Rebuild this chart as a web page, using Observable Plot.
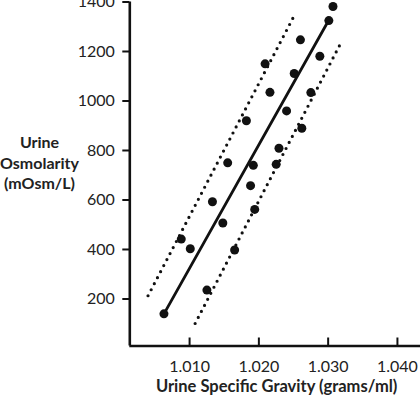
<!DOCTYPE html>
<html>
<head>
<meta charset="utf-8">
<script src="https://cdn.jsdelivr.net/npm/d3@7"></script>
<script src="https://cdn.jsdelivr.net/npm/@observablehq/plot@0.6"></script>
<style>
  html, body { margin: 0; padding: 0; background: #fff; }
  #chart svg { display: block; }
</style>
</head>
<body>
<div id="chart"></div>
<script>
// Scatter data: urine specific gravity (x) vs osmolarity (y)
const gravity = [1.0307, 1.0301, 1.0260, 1.0288, 1.0209, 1.0251, 1.0216, 1.0275, 1.0240, 1.0182, 1.0262, 1.0229, 1.0155, 1.0192, 1.0225, 1.0188, 1.0133, 1.0194, 1.0148, 1.0088, 1.0101, 1.0165, 1.0125, 1.0063];
const osmolarity = [1382, 1325, 1247, 1181, 1150, 1111, 1035, 1034, 960, 920, 890, 809, 750, 740, 744, 658, 593, 562, 507, 442, 403, 398, 236, 140];

// Regression line and prediction bounds (endpoints)
const fitX = [1.0063, 1.0299];
const fitY = [140, 1317];
const upperX = [1.0040, 1.0252];
const upperY = [213, 1350];
const lowerX = [1.0108, 1.0319];
const lowerY = [101, 1238];

// Axes
const xTicks = [1.010, 1.020, 1.030, 1.040];
const yTicks = [200, 400, 600, 800, 1000, 1200, 1400];
const xDomain = [1.00137, 1.04333];
const yDomain = [10, 1400];
const xLabel = "Urine Specific Gravity (grams/ml)";
const yLabel = ["Urine", "Osmolarity", "(mOsm/L)"];

const points = gravity.map((g, i) => ({g, o: osmolarity[i]}));
const toRows = (xs, ys) => xs.map((x, i) => ({x, y: ys[i]}));

const ink = "#111";

const chart = Plot.plot({
  width: 420,
  height: 395,
  marginLeft: 129.3,
  marginRight: 0,
  marginTop: 1.5,
  marginBottom: 49.5,
  style: {fontFamily: "Lato, 'Open Sans', sans-serif", fontSize: "16px", color: ink, background: "#fff"},
  x: {domain: xDomain},
  y: {domain: yDomain},
  marks: [
    Plot.line(toRows(upperX, upperY), {x: "x", y: "y", stroke: ink, strokeWidth: 3.2, strokeDasharray: "0,6.8", strokeLinecap: "round"}),
    Plot.line(toRows(lowerX, lowerY), {x: "x", y: "y", stroke: ink, strokeWidth: 3.2, strokeDasharray: "0,6.8", strokeLinecap: "round"}),
    Plot.line(toRows(fitX, fitY), {x: "x", y: "y", stroke: ink, strokeWidth: 2.8}),
    Plot.dot(points, {x: "g", y: "o", r: 4.5, fill: ink, stroke: "none"}),
    // axis lines
    Plot.ruleX([xDomain[0]], {stroke: ink, strokeWidth: 2.6}),
    Plot.ruleY([yDomain[0]], {stroke: ink, strokeWidth: 2.6}),
    // inward x ticks
    Plot.ruleX(xTicks, {stroke: ink, strokeWidth: 2, insetTop: 336}),
    Plot.axisX({ticks: xTicks, tickSize: 0, tickPadding: 14.5, tickFormat: d3.format(".3f"), label: null, fill: "#222", fontSize: 16}),
    Plot.axisY({ticks: yTicks, tickSize: 7, tickPadding: 8, tickFormat: d3.format("d"), strokeWidth: 2, stroke: ink, label: null, fill: "#222", fontSize: 16}),
    Plot.text([xLabel], {text: d => d, frameAnchor: "bottom", dy: 41, dx: 1.5, lineAnchor: "middle", fontWeight: "bold", fontSize: 16.5, fill: "#222"}),
    Plot.text([yLabel.join("\n")], {text: d => d, frameAnchor: "left", dx: -90.3, dy: -12, textAnchor: "middle", lineAnchor: "middle", lineHeight: 1.3, fontWeight: "bold", fontSize: 16, fill: "#222"})
  ]
});

document.getElementById("chart").appendChild(chart);
</script>
</body>
</html>
